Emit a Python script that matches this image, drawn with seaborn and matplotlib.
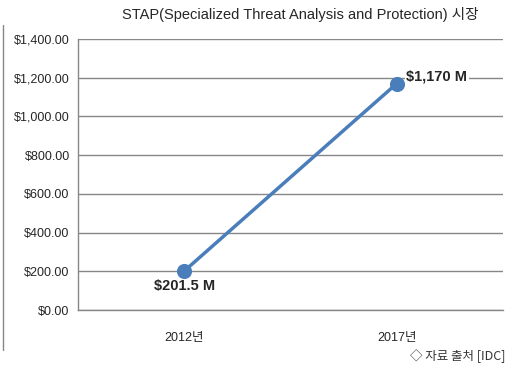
import numpy as np
import pandas as pd
import seaborn as sns
import matplotlib.pyplot as plt
import matplotlib.ticker as mtick
from matplotlib.lines import Line2D

years = ["2012년", "2017년"]
market = [201.5, 1170.0]
point_labels = ["$201.5 M", "$1,170 M"]
y_ticks = [0, 200, 400, 600, 800, 1000, 1200, 1400]

sns.set_style("white")
plt.rcParams['font.family'] = ['Liberation Sans', 'Noto Sans CJK KR', 'DejaVu Sans']

df = pd.DataFrame({"year": years, "value": market})

fig = plt.figure(figsize=(5.21, 3.70), dpi=100)
ax = fig.add_axes([78/521, 60/370, 425/521, 271/370])

blue = "#4A7EBB"
sns.pointplot(data=df, x="year", y="value", color=blue, markers="o",
              linewidth=2.5, markersize=9, ax=ax)

ax.set_xlim(-0.5, 1.5)
ax.set_ylim(0, 1400)
ax.set_yticks(y_ticks)
ax.yaxis.set_major_formatter(mtick.StrMethodFormatter("${x:,.2f}"))
ax.grid(axis="y", color="#878787", linewidth=1)
ax.set_axisbelow(True)
ax.set_xlabel("")
ax.set_ylabel("")

for s in ["top", "right"]:
    ax.spines[s].set_visible(False)
for s in ["left", "bottom"]:
    ax.spines[s].set_color("#878787")
    ax.spines[s].set_linewidth(1)

ax.set_xticks([-0.5, 0.5, 1.5], minor=True)
ax.tick_params(axis="x", which="major", length=0, pad=16, labelsize=9)
ax.tick_params(axis="x", which="minor", length=5, color="#878787", direction="out")
ax.tick_params(axis="y", length=4, color="#878787", direction="out", labelsize=9, pad=2)

ax.annotate(point_labels[0], (0, market[0]), xytext=(0, -6), textcoords="offset points",
            ha="center", va="top", fontsize=10.5, fontweight="bold")
ax.annotate(point_labels[1], (1, market[1]), xytext=(7, 5), textcoords="offset points",
            ha="left", va="center", fontsize=10.5, fontweight="bold",
            bbox=dict(facecolor="white", edgecolor="none", pad=1))

fig.text(300/521, 1 - 14/370, "STAP(Specialized Threat Analysis and Protection) 시장",
         ha="center", va="center", fontsize=10.5)
fig.text(506/521, 1 - 356/370, "◇ 자료 출처 [IDC]", ha="right", va="center",
         fontsize=9, family=['Noto Sans CJK KR', 'DejaVu Sans'], color="#333333")
fig.add_artist(Line2D([2.5/521, 2.5/521], [1 - 25/370, 1 - 350/370],
                      color="#878787", linewidth=1))

fig.savefig("out.png", dpi=100)
